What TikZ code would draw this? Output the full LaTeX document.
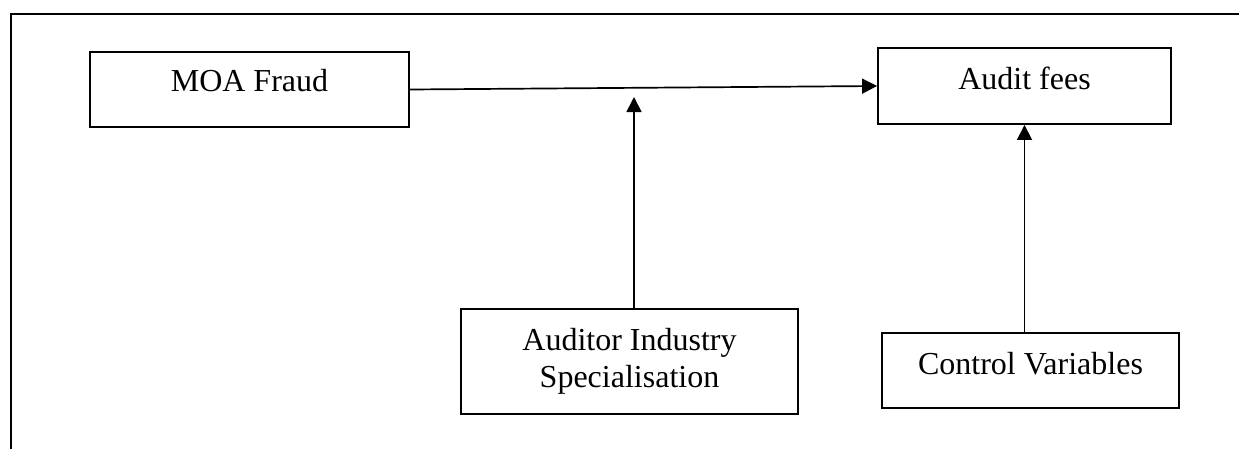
\documentclass[tikz,border=0pt]{standalone}
\usepackage{fontspec}
\setmainfont{Liberation Serif}
\usetikzlibrary{arrows.meta}

\begin{document}
\begin{tikzpicture}[x=1pt,y=-1pt,
  box/.style={draw,line width=1.9pt,inner sep=0pt,align=center,
    font=\fontsize{32}{37}\selectfont},
  link/.style={line width=1.7pt},
  >={Triangle[length=15pt,width=15pt]}]
\useasboundingbox (0,0) rectangle (1239,448);
\clip (0,0) rectangle (1239,448);
% frame round the model
\draw[line width=2.6pt] (11,14) rectangle (1260,470);
\node[box,minimum width=319pt,text height=39pt,text depth=36pt] (fraud) at (249.5,89.5) {MOA Fraud};
\node[box,minimum width=293pt,text height=41pt,text depth=35pt] (fees) at (1024.5,86) {Audit fees};
\node[box,minimum width=337pt,text height=78pt,text depth=27pt] (spec) at (629.5,361.5) {Auditor Industry\\Specialisation};
\node[box,minimum width=297pt,text height=41pt,text depth=34pt] (ctrl) at (1030.5,370.5) {Control Variables};
\coordinate (mod) at (634,97);
\draw[link,->] (fraud.east) -- (fees.west);
\draw[link,->] (spec.north -| mod) -- (mod);
\draw[link,->] (ctrl.north -| fees.south) -- (fees.south);
\end{tikzpicture}
\end{document}
